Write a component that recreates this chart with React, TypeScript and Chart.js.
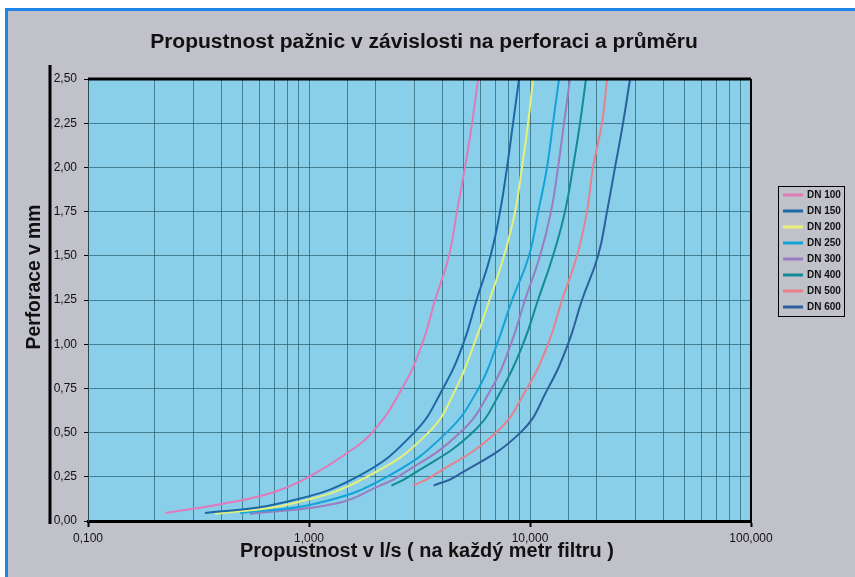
import { useEffect, useRef } from 'react';
import { Chart, registerables } from 'chart.js';
Chart.register(...registerables);

const chartTitle = 'Propustnost pažnic v závislosti na perforaci a průměru';
const xAxisTitle = 'Propustnost v l/s ( na každý metr filtru )';
const yAxisTitle = 'Perforace v mm';

const seriesLabels = ['DN 100', 'DN 150', 'DN 200', 'DN 250', 'DN 300', 'DN 400', 'DN 500', 'DN 600'];
const seriesColors = ['#e07ab8', '#1c68a6', '#e6f07a', '#14a2d8', '#9a7cc0', '#128a98', '#e8808c', '#2c5f9e'];

const dn100X = [0.225, 0.45, 0.72, 1.0, 1.45, 1.93, 2.64, 3.25, 3.72, 4.3, 4.67, 5.08, 5.47, 5.82];
const dn100Y = [0.045, 0.107, 0.17, 0.25, 0.375, 0.5, 0.75, 1.0, 1.25, 1.5, 1.75, 2.0, 2.25, 2.5];

const dn150X = [0.338, 0.74, 1.65, 2.99, 4.04, 4.98, 5.73, 6.63, 7.32, 7.87, 8.38, 8.92];
const dn150Y = [0.045, 0.1, 0.25, 0.5, 0.75, 1.0, 1.25, 1.5, 1.75, 2.0, 2.25, 2.5];

const dn200X = [0.376, 0.85, 1.83, 3.47, 4.63, 5.58, 6.56, 7.63, 8.56, 9.2, 9.8, 10.32];
const dn200Y = [0.04, 0.1, 0.25, 0.5, 0.75, 1.0, 1.25, 1.5, 1.75, 2.0, 2.25, 2.5];

const dn250X = [0.487, 1.09, 2.25, 4.19, 5.85, 7.09, 8.3, 9.9, 10.9, 11.94, 12.71, 13.53];
const dn250Y = [0.045, 0.1, 0.25, 0.5, 0.75, 1.0, 1.25, 1.5, 1.75, 2.0, 2.25, 2.5];

const dn300X = [0.54, 1.34, 2.09, 2.53, 4.83, 6.7, 8.2, 9.49, 11.1, 12.45, 13.39, 14.25, 15.17];
const dn300Y = [0.04, 0.1, 0.2, 0.25, 0.5, 0.75, 1.0, 1.25, 1.5, 1.75, 2.0, 2.25, 2.5];

const dn400X = [2.36, 2.82, 5.49, 7.5, 9.3, 10.87, 12.71, 14.4, 15.65, 16.84, 17.92];
const dn400Y = [0.2, 0.25, 0.5, 0.75, 1.0, 1.25, 1.5, 1.75, 2.0, 2.25, 2.5];

const dn500X = [2.96, 3.57, 7.02, 9.69, 12.06, 13.96, 16.32, 18.11, 19.27, 21.18, 22.31];
const dn500Y = [0.2, 0.25, 0.5, 0.75, 1.0, 1.25, 1.5, 1.75, 2.0, 2.25, 2.5];

const dn600X = [3.66, 4.58, 9.05, 12.06, 14.86, 17.19, 20.32, 22.31, 24.25, 26.36, 28.36];
const dn600Y = [0.2, 0.25, 0.5, 0.75, 1.0, 1.25, 1.5, 1.75, 2.0, 2.25, 2.5];

const seriesX = [dn100X, dn150X, dn200X, dn250X, dn300X, dn400X, dn500X, dn600X];
const seriesY = [dn100Y, dn150Y, dn200Y, dn250Y, dn300Y, dn400Y, dn500Y, dn600Y];

const xMin = 0.1;
const xMax = 100;
const yMin = 0;
const yMax = 2.5;
const yStep = 0.25;

const FONT = '"Liberation Sans", Arial, sans-serif';
const PLOT_BG = '#89cfea';
const GRID = 'rgba(40,92,108,0.7)';
const FRAME_BG = '#c0c1c9';
const FRAME_BLUE = '#1f82e6';

const isPow10 = (v: number) => {
  const l = Math.log10(v);
  return Math.abs(l - Math.round(l)) < 1e-6;
};

function fitSize(ctx: CanvasRenderingContext2D, text: string, weight: string, target: number) {
  ctx.font = `${weight} 20px ${FONT}`;
  const w = ctx.measureText(text).width;
  return (20 * target) / w;
}

const decorPlugin = {
  id: 'decor',
  beforeDraw(chart: any) {
    const { ctx, chartArea: a } = chart;
    ctx.save();
    ctx.fillStyle = PLOT_BG;
    ctx.fillRect(a.left, a.top, a.right - a.left, a.bottom - a.top);
    ctx.restore();
  },
  afterDraw(chart: any) {
    const { ctx, chartArea: a } = chart;
    ctx.save();
    ctx.strokeStyle = '#000';
    ctx.lineWidth = 3;
    ctx.beginPath();
    ctx.moveTo(a.left, a.top);
    ctx.lineTo(a.right, a.top);
    ctx.stroke();
    ctx.lineWidth = 2;
    ctx.beginPath();
    ctx.moveTo(a.right, a.top);
    ctx.lineTo(a.right, a.bottom);
    ctx.stroke();
    ctx.lineWidth = 3;
    ctx.beginPath();
    ctx.moveTo(50, a.top - 14);
    ctx.lineTo(50, a.bottom + 3);
    ctx.stroke();

    ctx.fillStyle = '#111';
    ctx.textAlign = 'center';
    ctx.textBaseline = 'middle';
    let s = fitSize(ctx, chartTitle, 'bold', 548);
    ctx.font = `bold ${s}px ${FONT}`;
    ctx.fillText(chartTitle, 424, 42);

    s = fitSize(ctx, xAxisTitle, 'bold', 374);
    ctx.font = `bold ${s}px ${FONT}`;
    ctx.fillText(xAxisTitle, 427, 552);

    s = fitSize(ctx, yAxisTitle, 'bold', 145);
    ctx.font = `bold ${s}px ${FONT}`;
    ctx.save();
    ctx.translate(35, 277);
    ctx.rotate(-Math.PI / 2);
    ctx.fillText(yAxisTitle, 0, 0);
    ctx.restore();

    const lx = 778, ly = 186, lw = 66, lh = 130;
    ctx.fillStyle = FRAME_BG;
    ctx.fillRect(lx, ly, lw, lh);
    ctx.strokeStyle = '#000';
    ctx.lineWidth = 1;
    ctx.strokeRect(lx + 0.5, ly + 0.5, lw, lh);
    ctx.textAlign = 'left';
    ctx.font = `bold 10px ${FONT}`;
    chart.data.datasets.forEach((ds: any, i: number) => {
      const y = 195 + i * 16;
      ctx.strokeStyle = ds.borderColor;
      ctx.lineWidth = 3;
      ctx.beginPath();
      ctx.moveTo(783, y);
      ctx.lineTo(803, y);
      ctx.stroke();
      ctx.fillStyle = '#111';
      ctx.fillText(ds.label, 807, y + 0.5);
    });
    ctx.restore();
  },
};

export default function App() {
  const ref = useRef<HTMLCanvasElement>(null);
  useEffect(() => {
    const canvas = ref.current!;
    const chart = new Chart(canvas, {
      type: 'line',
      data: {
        datasets: seriesLabels.map((label, i) => ({
          label,
          data: seriesX[i].map((x, j) => ({ x, y: seriesY[i][j] })),
          borderColor: seriesColors[i],
          backgroundColor: seriesColors[i],
          borderWidth: 2,
          pointRadius: 0,
          fill: false,
          tension: 0.45,
        })),
      },
      options: {
        responsive: false,
        animation: false,
        layout: { padding: { left: 40, top: 79, right: 104, bottom: 0 } },
        plugins: {
          legend: { display: false },
          title: { display: false },
          tooltip: { enabled: false },
        },
        scales: {
          x: {
            type: 'logarithmic',
            position: 'bottom',
            min: xMin,
            max: xMax,
            afterFit: (sc: any) => {
              sc.height = 56;
            },
            grid: {
              color: GRID,
              lineWidth: 1,
              tickLength: 6,
              tickWidth: 2,
              tickColor: (c: any) => (c.tick && isPow10(c.tick.value) ? '#000' : 'rgba(0,0,0,0)'),
            },
            border: { color: '#000', width: 3 },
            ticks: {
              autoSkip: false,
              maxRotation: 0,
              padding: 4,
              color: '#111',
              font: { family: FONT, size: 12 },
              callback: (v: any) => (isPow10(Number(v)) ? Number(v).toFixed(3).replace('.', ',') : ''),
            },
          },
          y: {
            type: 'linear',
            position: 'left',
            min: yMin,
            max: yMax,
            afterFit: (sc: any) => {
              sc.width = 48;
            },
            grid: {
              color: GRID,
              lineWidth: 1,
              tickLength: 4,
              tickColor: '#000',
            },
            border: { color: '#2a4a55', width: 1 },
            ticks: {
              stepSize: yStep,
              padding: 7,
              color: '#111',
              font: { family: FONT, size: 12 },
              callback: (v: any) => Number(v).toFixed(2).replace('.', ','),
            },
          },
        },
      } as any,
      plugins: [decorPlugin],
    });
    return () => chart.destroy();
  }, []);

  return (
    <div style={{ position: 'fixed', left: 0, top: 0, width: 855, height: 577, background: '#fff', overflow: 'hidden' }}>
      <div
        style={{
          position: 'absolute',
          left: 5,
          top: 8,
          right: 0,
          bottom: 0,
          background: FRAME_BG,
          borderTop: `3px solid ${FRAME_BLUE}`,
          borderLeft: `3px solid ${FRAME_BLUE}`,
        }}
      />
      <canvas ref={ref} width={855} height={577} style={{ position: 'absolute', left: 0, top: 0 }} />
    </div>
  );
}
